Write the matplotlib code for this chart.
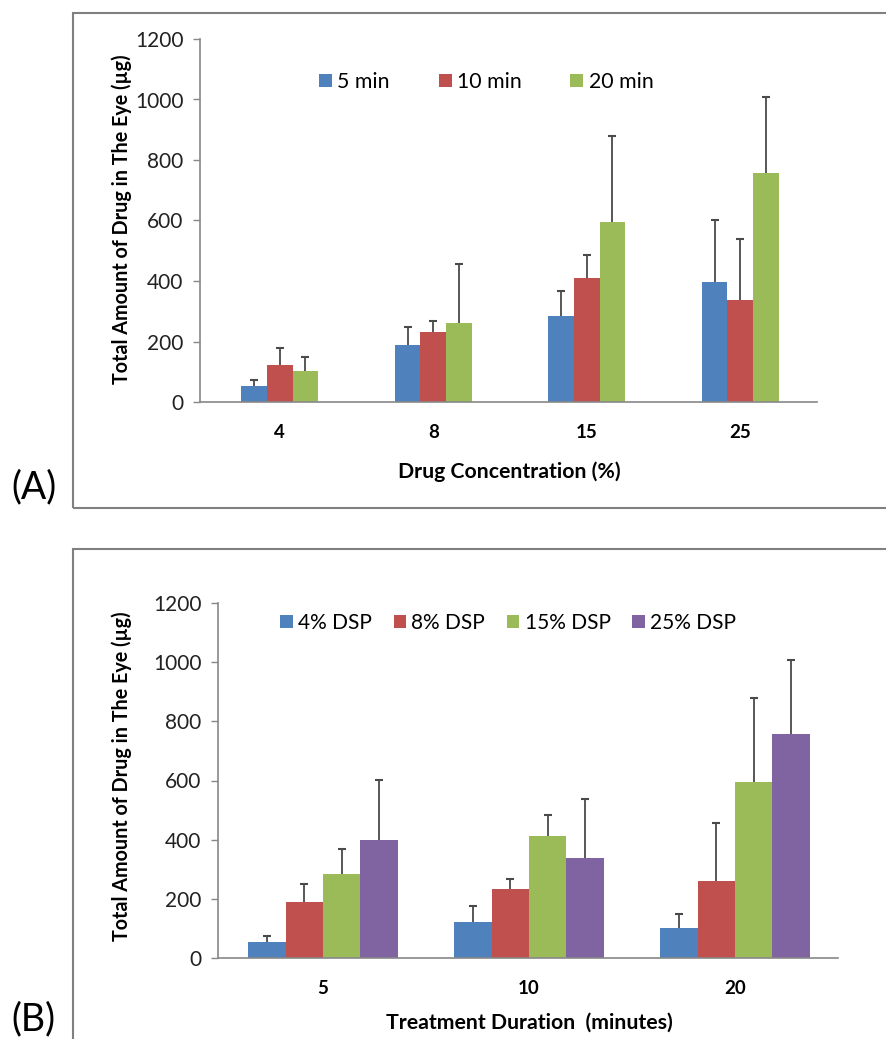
import matplotlib
matplotlib.use("Agg")
import matplotlib.pyplot as plt
import numpy as np
from matplotlib.patches import Rectangle

plt.rcParams['font.family'] = ['Lato', 'DejaVu Sans']

# ---- data ----
conc_labels = ["4", "8", "15", "25"]
time_labels = ["5", "10", "20"]
series_a = ["5 min", "10 min", "20 min"]
series_b = ["4% DSP", "8% DSP", "15% DSP", "25% DSP"]

# mean values [time][concentration]
mean_5min = [54, 188, 285, 398]
mean_10min = [122, 232, 411, 337]
mean_20min = [102, 260, 596, 758]
# upper error (SD) [time][concentration]
err_5min = [19, 61, 82, 204]
err_10min = [55, 36, 74, 201]
err_20min = [46, 196, 283, 251]

colors = ["#4F81BD", "#C0504D", "#9BBB59", "#8064A2"]
axis_grey = "#888888"
err_col = "#4a4a4a"

means = np.array([mean_5min, mean_10min, mean_20min])
errs = np.array([err_5min, err_10min, err_20min])

W, H = 887, 1039
fig = plt.figure(figsize=(W / 100, H / 100), dpi=100)

def fx(px):
    return px / W

def fy(py):
    return 1 - py / H

# panel frames
fig.patches.append(Rectangle((fx(73), fy(508)), fx(900) - fx(73), fy(13) - fy(508),
                             transform=fig.transFigure, fill=False,
                             edgecolor="#808080", linewidth=1.5))
fig.patches.append(Rectangle((fx(73), fy(1060)), fx(900) - fx(73), fy(549) - fy(1060),
                             transform=fig.transFigure, fill=False,
                             edgecolor="#808080", linewidth=1.5))

def style_axis(ax):
    for s in ["top", "right"]:
        ax.spines[s].set_visible(False)
    for s in ["left", "bottom"]:
        ax.spines[s].set_color(axis_grey)
        ax.spines[s].set_linewidth(1.2)
    ax.set_ylim(0, 1200)
    ax.set_yticks(np.arange(0, 1201, 200))
    ax.tick_params(axis="y", direction="out", length=5, width=1.0, color=axis_grey,
                   labelsize=15, labelcolor="#222222", pad=7)
    ax.tick_params(axis="x", length=0, labelsize=13.5, pad=16)
    for lab in ax.get_xticklabels():
        lab.set_fontweight("bold")

def upper_err(ax, pos, m, e):
    top = m + e
    ax.vlines(pos, m, top, colors=err_col, linewidth=1.3, zorder=3)
    ax.plot(pos, top, linestyle="none", marker="_", markersize=6,
            markeredgewidth=1.5, color=err_col, zorder=3)

# ---- Panel A ----
axA = fig.add_axes([fx(200), fy(402), fx(817) - fx(200), fy(39) - fy(402)])
xA = np.arange(len(conc_labels))
bwA = 0.167
hA = []
for i, name in enumerate(series_a):
    pos = xA + (i - 1) * bwA
    b = axA.bar(pos, means[i], bwA, color=colors[i], label=name, zorder=2)
    upper_err(axA, pos, means[i], errs[i])
    hA.append(b)
axA.set_xlim(-0.52, 3.5)
axA.set_xticks(xA)
axA.set_xticklabels(conc_labels)
style_axis(axA)
axA.legend(handles=hA, loc="center", bbox_to_anchor=(0.464, 0.8815), ncol=3,
           frameon=False, fontsize=15.3, handlelength=0.6, handleheight=0.6,
           handletextpad=0.25, columnspacing=2.3)
fig.text(fx(122), fy(219), "Total Amount of Drug in The Eye (µg)", rotation=90,
         ha="center", va="center", fontsize=14.2, fontweight="bold")
fig.text(fx(509), fy(472), "Drug Concentration (%)", ha="center", va="center",
         fontsize=15.3, fontweight="bold")
fig.text(fx(34), fy(487), "(A)", ha="center", va="center", fontsize=27)

# ---- Panel B ----
axB = fig.add_axes([fx(218), fy(958), fx(838) - fx(218), fy(603) - fy(958)])
xB = np.arange(len(time_labels))
bwB = 0.181
hB = []
meansB = means.T
errsB = errs.T
for j, name in enumerate(series_b):
    pos = xB + (j - 1.5) * bwB
    b = axB.bar(pos, meansB[j], bwB, color=colors[j], label=name, zorder=2)
    upper_err(axB, pos, meansB[j], errsB[j])
    hB.append(b)
axB.set_xlim(-0.51, 2.5)
axB.set_xticks(xB)
axB.set_xticklabels(time_labels)
style_axis(axB)
axB.legend(handles=hB, loc="center", bbox_to_anchor=(0.468, 0.9437), ncol=4,
           frameon=False, fontsize=15, handlelength=0.6, handleheight=0.6,
           handletextpad=0.25, columnspacing=1.05)
fig.text(fx(122), fy(776), "Total Amount of Drug in The Eye (µg)", rotation=90,
         ha="center", va="center", fontsize=14.2, fontweight="bold")
fig.text(fx(529), fy(1023), "Treatment Duration  (minutes)", ha="center", va="center",
         fontsize=15.3, fontweight="bold")
fig.text(fx(33), fy(1019), "(B)", ha="center", va="center", fontsize=27)

fig.savefig("out.png", dpi=100)
